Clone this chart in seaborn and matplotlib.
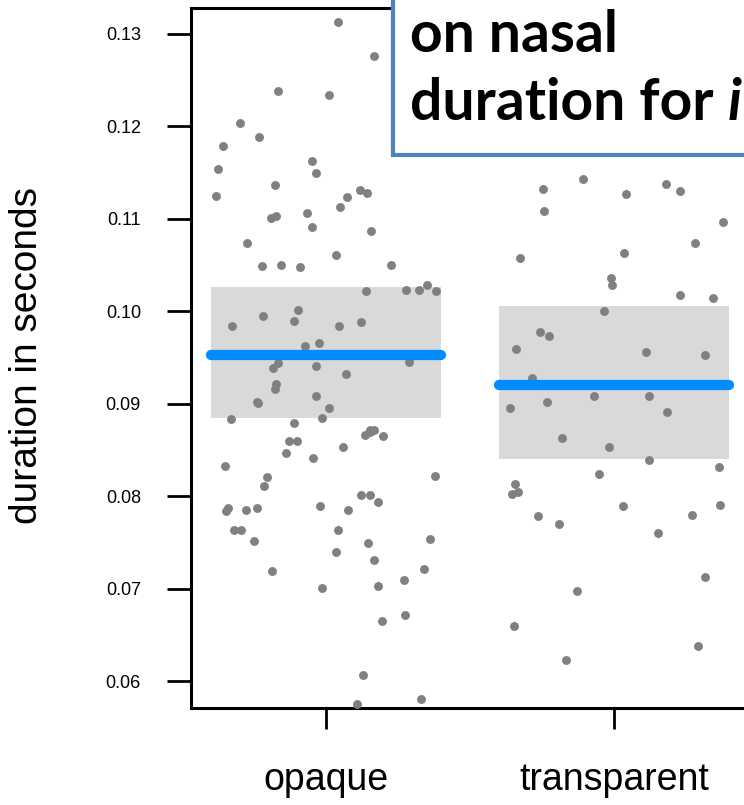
import numpy as np
import pandas as pd
import matplotlib
matplotlib.use("Agg")
import matplotlib.pyplot as plt
import matplotlib.patches as mpatches
import seaborn as sns

# ---------------- data ----------------
categories = ["opaque", "transparent"]

opaque_values = [
    0.13133, 0.12765, 0.12386, 0.12340, 0.12102, 0.12123, 0.12034, 0.11888, 0.11788, 0.11629,
    0.11536, 0.11499, 0.11312, 0.11369, 0.11276, 0.11236, 0.11247, 0.11131, 0.11012, 0.11066,
    0.11027, 0.10871, 0.10911, 0.10741, 0.10608, 0.10503, 0.10503, 0.10492, 0.10478, 0.10283,
    0.10215, 0.10215, 0.10229, 0.10233, 0.10010, 0.09843, 0.09880, 0.09836, 0.09891, 0.09945,
    0.09623, 0.09659, 0.09382, 0.09436, 0.09407, 0.09447, 0.09317, 0.09212, 0.09158, 0.09082,
    0.09003, 0.09017, 0.08949, 0.08833, 0.08844, 0.08793, 0.08714, 0.08649, 0.08714, 0.08689,
    0.08598, 0.08663, 0.08598, 0.08530, 0.08468, 0.08414, 0.08321, 0.08205, 0.08216, 0.08111,
    0.08011, 0.08011, 0.07942, 0.07895, 0.07848, 0.07838, 0.07867, 0.07867, 0.07852, 0.07629,
    0.07629, 0.07629, 0.07513, 0.07534, 0.07494, 0.07394, 0.07304, 0.07188, 0.07210, 0.07094,
    0.07026, 0.07004, 0.06712, 0.06650, 0.06063, 0.05810, 0.05749,
]

transparent_values = [
    0.11431, 0.11265, 0.11081, 0.11326, 0.11380, 0.11301, 0.10962, 0.10738, 0.10633, 0.10572,
    0.10283, 0.10139, 0.10175, 0.10359, 0.10005, 0.09735, 0.09771, 0.09591, 0.09523, 0.09555,
    0.09280, 0.09079, 0.08956, 0.09014, 0.08909, 0.09079, 0.08533, 0.08624, 0.08389, 0.08310,
    0.08235, 0.08130, 0.08025, 0.08040, 0.07906, 0.07892, 0.07797, 0.07783, 0.07697, 0.07603,
    0.07123, 0.06975, 0.06596, 0.06376, 0.06232,
]

model_means = [0.0953, 0.0920]
ci_lower = [0.0884, 0.0840]
ci_upper = [0.1026, 0.1006]

y_ticks = [0.06, 0.07, 0.08, 0.09, 0.10, 0.11, 0.12, 0.13]
y_ticklabels = ["0.06", "0.07", "0.08", "0.09", "0.10", "0.11", "0.12", "0.13"]

ylabel = "duration in seconds"
box_line1 = "on nasal"
box_line2 = "duration for "
box_italic = "i"

df = pd.DataFrame({
    "condition": ["opaque"] * len(opaque_values) + ["transparent"] * len(transparent_values),
    "duration": opaque_values + transparent_values,
})

# ---------------- figure ----------------
sns.set_style("white")
plt.rcParams["font.family"] = ["Liberation Sans", "DejaVu Sans"]
plt.rcParams["text.color"] = "black"
plt.rcParams["axes.labelcolor"] = "black"
plt.rcParams["xtick.color"] = "black"
plt.rcParams["ytick.color"] = "black"

W, H = 744, 805
fig = plt.figure(figsize=(W / 100, H / 100), dpi=100)
ax = fig.add_axes([191 / W, (H - 708) / H, (W - 191) / W, 700 / H])

pos = np.arange(len(categories))

# CI boxes
ax.bar(pos, np.array(ci_upper) - np.array(ci_lower), bottom=ci_lower, width=0.8,
       color="#D9D9D9", edgecolor="none", zorder=1)

# jittered points
np.random.seed(3)
sns.stripplot(data=df, x="condition", y="duration", order=categories, jitter=0.4,
              color="#808080", size=6.4, linewidth=0, ax=ax, zorder=3)

# mean lines
lc = ax.hlines(model_means, pos - 0.4, pos + 0.4, colors="#008CFF", linewidth=7.4, zorder=4)
lc.set_capstyle("round")

ax.set_xlim(-0.469, 1.451)
ax.set_ylim(0.05708, 0.13281)
ax.set_yticks(y_ticks)
ax.set_yticklabels(y_ticklabels)
ax.set_xticks(pos)
ax.set_xticklabels(categories)

for s in ["left", "bottom", "top"]:
    ax.spines[s].set_visible(True)
    ax.spines[s].set_linewidth(2.2)
    ax.spines[s].set_color("black")
ax.spines["right"].set_visible(False)

ax.tick_params(axis="y", direction="out", length=17, width=2, pad=19, labelsize=13, left=True,
               colors="black")
ax.tick_params(axis="x", direction="out", length=15, width=2, pad=24, labelsize=27, bottom=True,
               colors="black")
ax.set_xlabel("")
ax.set_ylabel(ylabel, fontsize=28, color="black")
ax.yaxis.set_label_coords(-0.264, 0.503)

# Text box (partially cropped, as in the reference)
rect = mpatches.Rectangle((393 / W, (H - 155) / H), 0.6, 0.3, transform=fig.transFigure,
                          facecolor="white", edgecolor="#4F81BD", linewidth=3, zorder=10,
                          clip_on=False)
fig.add_artist(rect)
tkw = dict(fontsize=41, fontweight="bold", family=["Lato", "DejaVu Sans"], color="black",
           va="baseline", ha="left", zorder=11)
t1 = fig.text(410 / W, (H - 52) / H, box_line1, **tkw)
t2 = fig.text(410 / W, (H - 120) / H, box_line2, **tkw)
fig.canvas.draw()
bb = t2.get_window_extent(renderer=fig.canvas.get_renderer())
fig.text(bb.x1 / W, (H - 120) / H, box_italic, style="italic", **tkw)

fig.savefig("out.png", dpi=100)
